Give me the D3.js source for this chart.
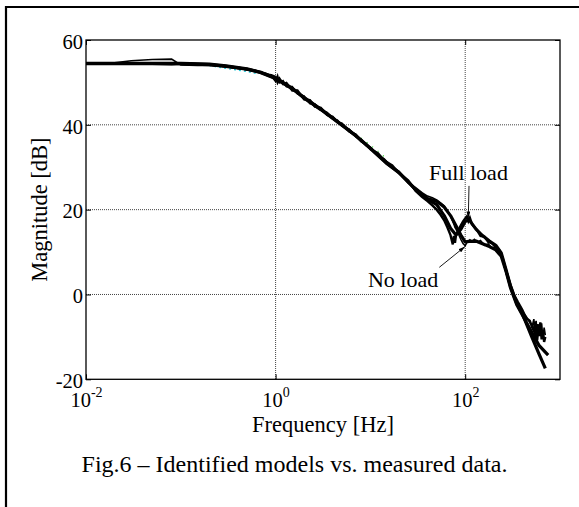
<!DOCTYPE html>
<html>
<head>
<meta charset="utf-8">
<script src="https://cdn.jsdelivr.net/npm/d3@7"></script>
<style>
  html, body { margin: 0; padding: 0; background: #fff; }
  svg { display: block; }
</style>
</head>
<body>
<div id="chart"></div>
<script>
// Measured frequency responses (Hz, dB)
const measFreq = [0.01, 0.02, 0.03, 0.05, 0.08, 0.1, 0.15, 0.2, 0.3, 0.4, 0.5, 0.6, 0.7, 0.8, 0.9,
  1.0, 1.05, 1.1, 1.2, 1.3, 1.5, 1.7, 2.0, 2.3, 2.6, 3.0, 3.5, 4.0, 4.5, 5.0, 6.0, 7.0, 8.0, 9.0,
  10, 12, 14, 17, 20, 25, 30, 35, 40, 45, 50, 55, 60, 65, 70, 74, 76, 78, 80, 85, 90, 95, 100,
  104, 108, 112, 118, 125, 135, 145, 160, 175, 190, 210, 230, 250, 270, 300, 330, 360, 400,
  440, 480, 510, 530, 545, 560, 580, 600, 620, 640, 660, 680, 700];

const measNoLoad = [54.4, 54.6, 55.1, 55.4, 55.5, 54.1, 54.0, 54.0, 53.7, 53.3, 53.0, 52.7, 52.4, 52.1, 51.5,
  50.2, 51.6, 49.9, 50.4, 49.0, 49.0, 47.3, 46.8, 45.0, 44.9, 43.4, 42.9, 41.4, 41.1, 39.7, 39.0, 37.2, 36.6, 35.1,
  34.7, 32.9, 32.0, 30.0, 29.0, 26.3, 25.2, 24.0, 23.2, 22.8, 22.3, 21.6, 20.9, 19.8, 18.5, 17.2, 16.6, 15.8, 15.4, 14.2, 13.0, 12.0, 11.5,
  12.2, 12.6, 12.9, 12.4, 13.0, 12.3, 12.7, 11.6, 11.9, 11.0, 11.2, 10.0, 7.8, 5.0, 1.8, -0.6, -2.2, -4.0,
  -5.2, -6.6, -7.4, -5.8, -9.6, -6.2, -10.8, -7.4, -9.2, -6.8, -10.4, -7.8, -9.6];

const measFullLoad = [54.4, 54.4, 54.4, 54.4, 54.3, 54.4, 54.3, 54.2, 53.8, 53.5, 53.1, 52.8, 52.3, 51.9, 51.7,
  51.3, 50.0, 50.9, 49.6, 49.9, 48.1, 48.1, 46.0, 45.8, 44.3, 44.0, 42.3, 41.9, 40.6, 40.3, 38.4, 37.7, 36.1, 35.5,
  34.3, 33.3, 31.6, 30.4, 28.6, 26.9, 24.4, 23.0, 22.0, 21.0, 20.0, 18.8, 17.5, 15.8, 14.0, 11.8, 13.8, 12.2, 14.0, 15.2, 16.3, 17.2, 17.9,
  18.4, 17.3, 18.1, 16.6, 15.9, 15.0, 13.8, 13.6, 12.4, 12.1, 11.2, 10.4, 8.4, 5.6, 2.4, -0.2, -1.8, -3.6,
  -5.6, -6.2, -7.8, -8.6, -6.4, -10.4, -7.0, -9.8, -6.6, -10.6, -8.4, -11.2, -10.0];

// Identified models
const modelFreq = [0.01, 0.03, 0.1, 0.2, 0.3, 0.5, 0.7, 1, 1.5, 2, 3, 5, 7, 10, 15, 20, 30, 40, 50, 60,
  70, 80, 90, 100, 110, 130, 150, 180, 210, 240, 270, 300, 350, 400, 500, 600, 700, 750];
const modelNoLoad = [54.5, 54.5, 54.5, 54.3, 53.9, 53.2, 52.4, 51.0, 48.6, 46.4, 43.7, 40.0, 37.5, 34.5, 30.9, 28.8, 24.8, 22.6, 22.0, 20.6,
  18.6, 16.2, 14.0, 12.4, 12.5, 12.6, 12.0, 11.3, 10.5, 9.0, 5.4, 1.6, -2.4, -4.8, -8.8, -12.0, -13.6, -14.3];
const modelFullLoad = [54.4, 54.4, 54.4, 54.2, 53.8, 53.1, 52.3, 50.9, 48.5, 46.3, 43.6, 39.9, 37.4, 34.4, 30.8, 28.7, 24.7, 22.4, 21.2, 18.6,
  15.6, 14.0, 15.4, 17.2, 17.6, 15.4, 14.0, 12.6, 11.6, 9.8, 5.8, 2.0, -2.2, -4.5, -9.8, -14.0, -17.4, null];

// faint coloured traces peeking out from under the black curves
const cyanFreq = [0.2, 0.25, 0.3, 0.35, 0.4, 0.5, 0.6, 0.65];
const cyanDb = [54.0, 53.6, 53.3, 53.1, 52.9, 52.6, 52.2, 52.0];
const greenFreq = [8, 9, 10, 12, 14];
const greenDb = [36.9, 36.0, 35.2, 33.8, 32.5];

// ticks
const xTicks = [0.01, 1, 100];
const xTickExp = ["-2", "0", "2"];
const yTicks = [-20, 0, 20, 40, 60];
const xGrid = [1, 100];
const yGrid = [0, 20, 40];

const labels = [
  { text: "Full load", at: [108.3, 27.0], from: [109.7, 25.6], to: [107.8, 18.0] },
  { text: "No load", at: [22.1, 1.7], from: [53.3, 6.4], to: [99.6, 11.3] }
];

const W = 579, H = 507;
const margin = { top: 40, right: 19, bottom: 127.7, left: 86 };
const width = W - margin.left - margin.right;
const height = H - margin.top - margin.bottom;
const font = "'Liberation Serif', 'Times New Roman', serif";

const svg = d3.select("#chart").append("svg")
  .attr("width", W)
  .attr("height", H)
  .style("font-family", font);

// page frame (only left and top edges show)
svg.append("path")
  .attr("d", `M6,${H} V7 H${W}`)
  .attr("fill", "none")
  .attr("stroke", "#000")
  .attr("stroke-width", 2.2);

const defs = svg.append("defs");
defs.append("clipPath").attr("id", "plot-clip")
  .append("rect").attr("width", width).attr("height", height);
defs.append("marker")
  .attr("id", "arrow")
  .attr("viewBox", "0 0 10 6")
  .attr("refX", 10).attr("refY", 3)
  .attr("markerWidth", 7).attr("markerHeight", 4)
  .attr("markerUnits", "userSpaceOnUse")
  .attr("orient", "auto")
  .append("path").attr("d", "M0,0 L10,3 L0,6 Z").attr("fill", "#000");

const g = svg.append("g").attr("transform", `translate(${margin.left},${margin.top})`);

const x = d3.scaleLog().domain([0.01, 1000]).range([0, width]);
const y = d3.scaleLinear().domain([-20, 60]).range([height, 0]);

// dotted grid
g.append("g").selectAll("line.vg").data(xGrid).join("line")
  .attr("x1", d => x(d)).attr("x2", d => x(d))
  .attr("y1", 0).attr("y2", height);
g.append("g").selectAll("line.hg").data(yGrid).join("line")
  .attr("x1", 0).attr("x2", width)
  .attr("y1", d => y(d)).attr("y2", d => y(d));
g.selectAll("g line")
  .attr("stroke", "#444")
  .attr("stroke-width", 1)
  .attr("stroke-dasharray", "1,1");

// curves
const line = d3.line()
  .defined(d => d[1] != null)
  .x(d => x(d[0]))
  .y(d => y(d[1]));

const curves = g.append("g").attr("clip-path", "url(#plot-clip)");

curves.append("path").datum(d3.zip(cyanFreq, cyanDb))
  .attr("d", line).attr("fill", "none")
  .attr("stroke", "#1fc6d6").attr("stroke-width", 1.4).attr("stroke-dasharray", "2,3");
curves.append("path").datum(d3.zip(greenFreq, greenDb))
  .attr("d", line).attr("fill", "none")
  .attr("stroke", "#2bd12b").attr("stroke-width", 1.2).attr("stroke-dasharray", "1,6");

[modelNoLoad, modelFullLoad].forEach(vals => {
  curves.append("path").datum(d3.zip(modelFreq, vals))
    .attr("d", line).attr("fill", "none")
    .attr("stroke", "#000").attr("stroke-width", 3.2)
    .attr("stroke-linejoin", "round");
});
[measNoLoad, measFullLoad].forEach((vals, i) => {
  curves.append("path").datum(d3.zip(measFreq, vals))
    .attr("d", line).attr("fill", "none")
    .attr("stroke", "#000").attr("stroke-width", i === 0 ? 1.6 : 2.4)
    .attr("stroke-linejoin", "miter");
});

// axes: labels on left/bottom, inward ticks on all four sides
const yAxis = g.append("g")
  .call(d3.axisLeft(y).tickValues(yTicks).tickSizeInner(-5).tickSizeOuter(0).tickPadding(3)
    .tickFormat(d => String(d)));
yAxis.selectAll("text").attr("dy", "0.4em");

const xAxis = g.append("g").attr("transform", `translate(0,${height})`)
  .call(d3.axisBottom(x).tickValues(xTicks).tickSizeInner(-5).tickSizeOuter(0).tickFormat(() => ""));
xAxis.selectAll(".tick text").each(function(d, i) {
  const t = d3.select(this).attr("y", 28).attr("dy", null);
  t.append("tspan").text("10");
  t.append("tspan").attr("dy", -10).attr("font-size", 14).text(xTickExp[i]);
});

g.append("g").attr("transform", `translate(${width},0)`)
  .call(d3.axisRight(y).tickValues(yTicks).tickSizeInner(-5).tickSizeOuter(0).tickFormat(""));
g.append("g")
  .call(d3.axisTop(x).tickValues(xTicks).tickSizeInner(-5).tickSizeOuter(0).tickFormat(""));

g.selectAll(".domain").remove();
g.selectAll(".tick line").attr("stroke", "#000");
g.selectAll("g").filter(function() { return this.hasAttribute("font-family"); })
  .attr("font-family", font)
  .attr("font-size", 20.5);

// plot box
g.append("rect")
  .attr("width", width).attr("height", height)
  .attr("fill", "none").attr("stroke", "#000").attr("stroke-width", 1.3);

// annotations
labels.forEach(l => {
  g.append("text")
    .attr("x", x(l.at[0])).attr("y", y(l.at[1]))
    .attr("text-anchor", "middle")
    .attr("font-size", 22)
    .text(l.text);
  g.append("line")
    .attr("x1", x(l.from[0])).attr("y1", y(l.from[1]))
    .attr("x2", x(l.to[0])).attr("y2", y(l.to[1]))
    .attr("stroke", "#000").attr("stroke-width", 0.9)
    .attr("marker-end", "url(#arrow)");
});

// titles
svg.append("text")
  .attr("x", margin.left + width / 2).attr("y", 432)
  .attr("text-anchor", "middle").attr("font-size", 22.5)
  .text("Frequency [Hz]");
svg.append("text")
  .attr("transform", `translate(47,${margin.top + height / 2}) rotate(-90)`)
  .attr("text-anchor", "middle").attr("font-size", 22.5)
  .text("Magnitude [dB]");
svg.append("text")
  .attr("x", 294.5).attr("y", 472)
  .attr("text-anchor", "middle").attr("font-size", 24)
  .text("Fig.6 – Identified models vs. measured data.");
</script>
</body>
</html>
